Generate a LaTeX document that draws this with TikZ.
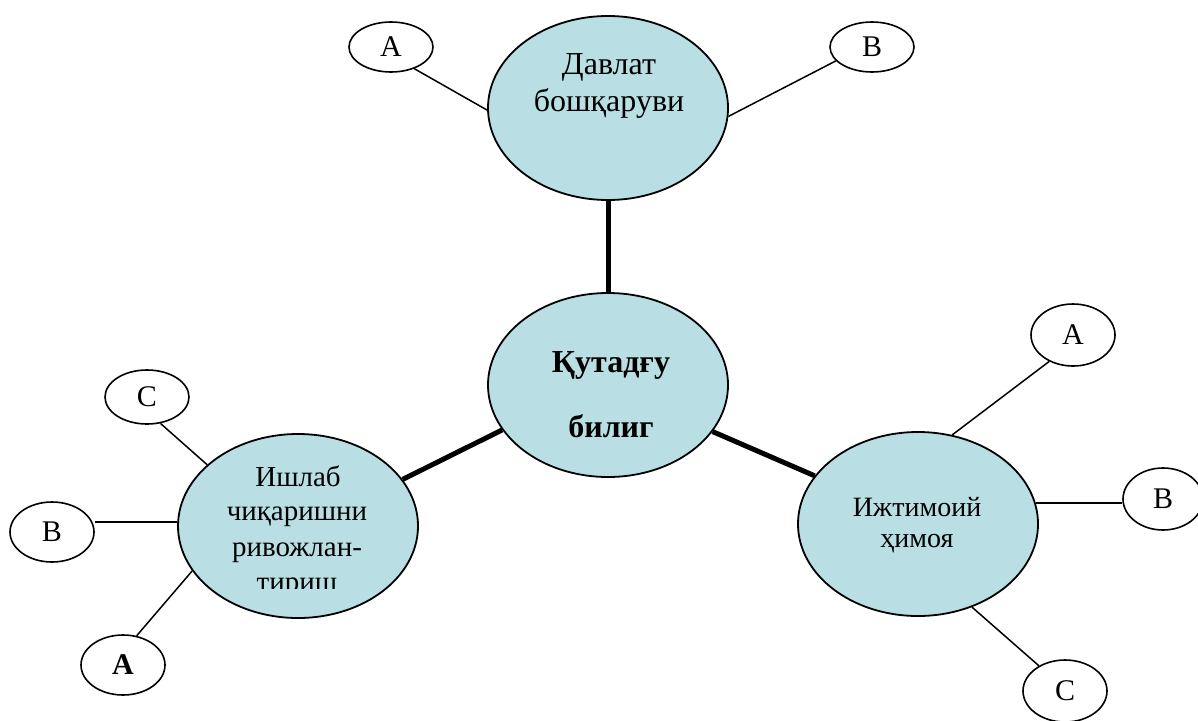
\documentclass[tikz,border=0pt]{standalone}
\usepackage{fontspec}
\setmainfont{Liberation Serif}
\usetikzlibrary{shapes.geometric}
\definecolor{ellfill}{RGB}{185,223,228}
\tikzset{
  bigell/.style={ellipse, draw=black, line width=1.8pt, fill=ellfill, minimum width=240pt, minimum height=184pt, inner sep=0pt},
  smallell/.style={ellipse, draw=black, line width=1.6pt, fill=white, inner sep=0pt, font=\fontsize{30}{34}\selectfont},
  thin/.style={line width=1.5pt},
  thick/.style={line width=5pt},
  lbl/.style={anchor=base, inner sep=0pt},
}
\begin{document}
\begin{tikzpicture}[x=1pt,y=-1pt]
\useasboundingbox (0,0) rectangle (1198,720);
% big ellipses
\node[bigell] (top) at (608,108) {};
\node[bigell] (ctr) at (608,385) {};
\node[bigell] (lft) at (298,526) {};
\node[bigell] (rgt) at (918,524) {};
% small ellipses
\node[smallell, minimum width=84pt, minimum height=50pt] (tA) at (391,47) {A};
\node[smallell, minimum width=84pt, minimum height=50pt] (tB) at (872,47) {B};
\node[smallell, minimum width=84pt, minimum height=54pt] (lC) at (147,397) {C};
\node[smallell, minimum width=84pt, minimum height=60pt] (lB) at (52,532) {B};
\node[smallell, minimum width=84pt, minimum height=60pt] (lA) at (123,665) {\textbf{A}};
\node[smallell, minimum width=84pt, minimum height=62pt] (rA) at (1073,335) {A};
\node[smallell, minimum width=80pt, minimum height=62pt] (rB) at (1163,499) {B};
\node[smallell, minimum width=84pt, minimum height=62pt] (rC) at (1065,691) {C};
% thick connectors
\draw[thick] (top.south) -- (ctr.north);
\draw[thick] (ctr.203.9) -- (lft.24.6);
\draw[thick] (ctr.-24.3) -- (rgt.155.9);
% thin connectors
\draw[thin] (tA.-43.8) -- (top.181.5);
\draw[thin] (tB.201) -- (top.-4.3);
\draw[thin] (lC.-63.4) -- (lft.146.7);
\draw[thin] (lft.178) -- (lft.178 -| lB.east);
\draw[thin] (lA.65.7) -- (lft.203.7);
\draw[thin] (rA.228.4) -- (rgt.69.1);
\draw[thin] (rgt.10.4) -- (rgt.10.4 -| rB.west);
\draw[thin] (rC.136) -- (rgt.-57.7);
% texts
\node[lbl, font=\fontsize{32}{37}\selectfont] (t1) at (609,74) {Давлат};
\node[lbl, font=\fontsize{32}{37}\selectfont] (t2) at (609,111) {бошқаруви};
\node[lbl, font=\fontsize{32}{36}\selectfont\bfseries] (c1) at (611,372) {Қутадғу};
\node[lbl, font=\fontsize{32}{36}\selectfont\bfseries] (c2) at (611,437) {билиг};
\node[lbl, font=\fontsize{29}{34}\selectfont] (l1) at (298,486) {Ишлаб};
\node[lbl, font=\fontsize{29}{34}\selectfont] (l2) at (297,520) {чиқаришни};
\node[lbl, font=\fontsize{29}{34}\selectfont] (l3) at (297,556) {ривожлан-};
\begin{scope}
\clip (0,0) rectangle (1198,588);
\node[lbl, font=\fontsize{29}{34}\selectfont] (l4) at (297,591) {тириш};
\end{scope}
\node[lbl, font=\fontsize{28}{31}\selectfont] (r1) at (917,516) {Ижтимоий};
\node[lbl, font=\fontsize{28}{31}\selectfont] (r2) at (917,547) {ҳимоя};
\end{tikzpicture}
\end{document}
